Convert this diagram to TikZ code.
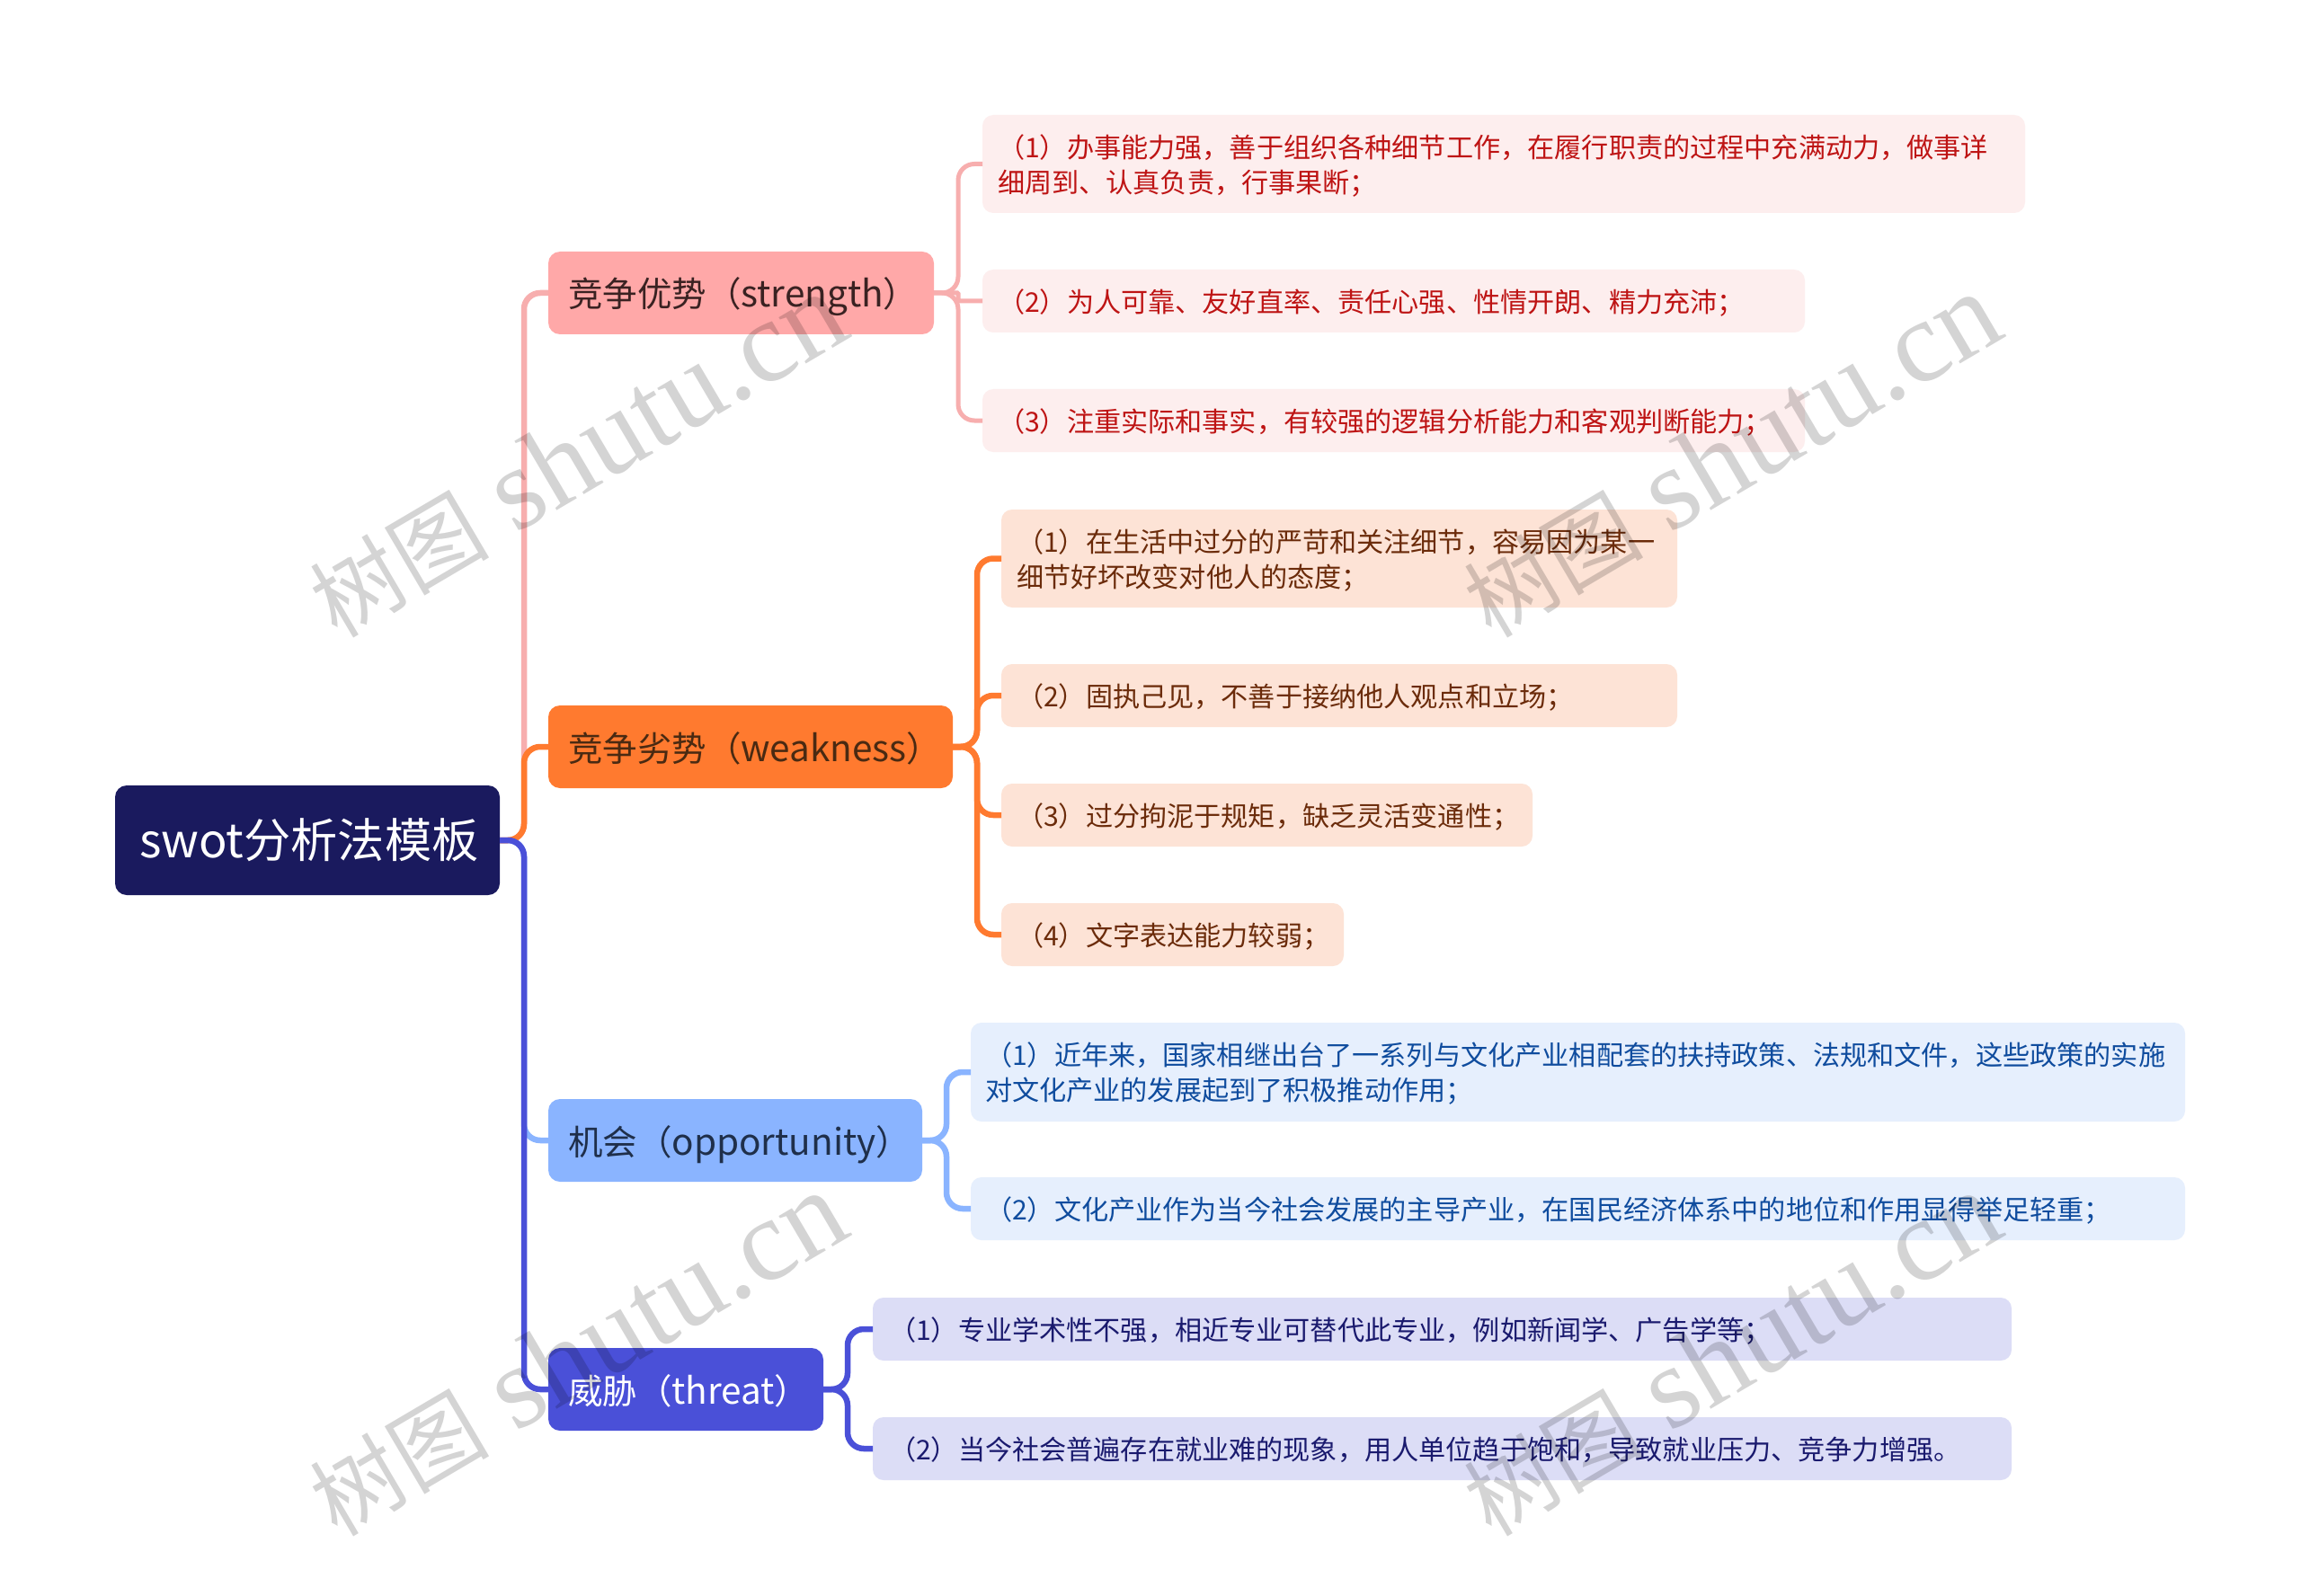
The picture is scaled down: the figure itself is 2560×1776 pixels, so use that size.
\documentclass[tikz,border=0pt]{standalone}
\usepackage{fontspec}
\setmainfont{Noto Sans CJK SC}
\newfontfamily\wmlatin{Liberation Serif}
\definecolor{rootc}{HTML}{1A1A5E}
\definecolor{sc}{HTML}{FFA8A8}
\definecolor{sl}{HTML}{F7AEAE}
\definecolor{sf}{HTML}{FDEEEE}
\definecolor{st}{HTML}{BE1414}
\definecolor{sd}{HTML}{3A2222}
\definecolor{wc}{HTML}{FF7A2F}
\definecolor{wf}{HTML}{FDE3D6}
\definecolor{wt}{HTML}{6B2B0A}
\definecolor{wd}{HTML}{4A2A12}
\definecolor{oc}{HTML}{8AB4FF}
\definecolor{of}{HTML}{E6EFFD}
\definecolor{ot}{HTML}{0F4C9E}
\definecolor{od}{HTML}{1F2F4A}
\definecolor{tc}{HTML}{4A50D8}
\definecolor{tf}{HTML}{DCDDF6}
\definecolor{tt}{HTML}{1A1A6E}
\newcommand{\lt}[1]{{\fontsize{40.5}{48}\selectfont #1}}
\tikzset{
  basebox/.style={rounded corners=13pt, inner sep=0pt, outer sep=0pt, align=left, anchor=north west},
  rootbox/.style={basebox, fill=rootc, text=white, minimum width=428pt, minimum height=122pt, text width=374pt, font=\fontsize{52.2}{60}\selectfont},
  branchbox/.style={basebox, minimum height=92pt, text height=40pt, text depth=8pt, font=\fontsize{38.5}{48}\selectfont},
  sbranch/.style={branchbox, fill=sc, text=sd},
  wbranch/.style={branchbox, fill=wc, text=wd},
  obranch/.style={branchbox, fill=oc, text=od},
  tbranch/.style={branchbox, fill=tc, text=white},
  leafbox/.style={basebox, rounded corners=12pt, font=\fontsize{30.15}{39}\selectfont},
  oneline/.style={text height=32.4pt, text depth=7.6pt},
  twoline/.style={text height=42.9pt, text depth=57.1pt},
  sleaf/.style={leafbox, fill=sf, text=st},
  wleaf/.style={leafbox, fill=wf, text=wt},
  oleaf/.style={leafbox, fill=of, text=ot},
  tleaf/.style={leafbox, fill=tf, text=tt},
  conn/.style={rounded corners=18pt, line width=6.5pt},
  sconn/.style={rounded corners=18pt, line width=5pt, draw=sl},
  wmark/.style={rotate=30.5, text=black, text opacity=0.17, inner sep=0pt},
}
\newcommand{\wmtext}{{\fontsize{100}{130}\selectfont 树图} \hspace{28pt}{\wmlatin\fontsize{130}{130}\selectfont shutu.cn}}
\begin{document}
\begin{tikzpicture}[x=1pt,y=-1pt]
\useasboundingbox (0,0) rectangle (2560,1776);
\fill[white] (0,0) rectangle (2560,1776);

% boxes
\node[rootbox, inner xsep=27pt] (root) at (128,874) {swot分析法模板};

\node[sbranch, minimum width=429pt, text width=385pt, inner xsep=22pt] (s) at (610,280) {竞争优势（\lt{strength}）};
\node[wbranch, minimum width=450pt, text width=406pt, inner xsep=22pt] (w) at (610,785) {竞争劣势（\lt{weakness}）};
\node[obranch, minimum width=416pt, text width=372pt, inner xsep=22pt] (o) at (610,1223) {机会（\lt{opportunity}）};
\node[tbranch, minimum width=306pt, text width=262pt, inner xsep=22pt] (t) at (610,1500) {威胁（\lt{threat}）};

\node[sleaf, twoline, minimum width=1160pt, minimum height=109pt, text width=1126pt, inner xsep=17pt] (s1) at (1093,128) {（1）办事能力强，善于组织各种细节工作，在履行职责的过程中充满动力，做事详\\细周到、认真负责，行事果断；};
\node[sleaf, oneline, minimum width=915pt, minimum height=70pt, text width=881pt, inner xsep=17pt] (s2) at (1093,300) {（2）为人可靠、友好直率、责任心强、性情开朗、精力充沛；};
\node[sleaf, oneline, minimum width=915pt, minimum height=70pt, text width=881pt, inner xsep=17pt] (s3) at (1093,433) {（3）注重实际和事实，有较强的逻辑分析能力和客观判断能力；};

\node[wleaf, twoline, minimum width=752pt, minimum height=109pt, text width=718pt, inner xsep=17pt] (w1) at (1114,567) {（1）在生活中过分的严苛和关注细节，容易因为某一\\细节好坏改变对他人的态度；};
\node[wleaf, oneline, minimum width=752pt, minimum height=70pt, text width=718pt, inner xsep=17pt] (w2) at (1114,739) {（2）固执己见，不善于接纳他人观点和立场；};
\node[wleaf, oneline, minimum width=591pt, minimum height=70pt, text width=557pt, inner xsep=17pt] (w3) at (1114,872) {（3）过分拘泥于规矩，缺乏灵活变通性；};
\node[wleaf, oneline, minimum width=381pt, minimum height=70pt, text width=347pt, inner xsep=17pt] (w4) at (1114,1005) {（4）文字表达能力较弱；};

\node[oleaf, twoline, minimum width=1351pt, minimum height=110pt, text width=1319pt, inner xsep=16pt] (o1) at (1080,1138) {（1）近年来，国家相继出台了一系列与文化产业相配套的扶持政策、法规和文件，这些政策的实施\\对文化产业的发展起到了积极推动作用；};
\node[oleaf, oneline, minimum width=1351pt, minimum height=70pt, text width=1319pt, inner xsep=16pt] (o2) at (1080,1310) {（2）文化产业作为当今社会发展的主导产业，在国民经济体系中的地位和作用显得举足轻重；};

\node[tleaf, oneline, minimum width=1267pt, minimum height=70pt, text width=1231pt, inner xsep=18pt] (t1) at (971,1444) {（1）专业学术性不强，相近专业可替代此专业，例如新闻学、广告学等；};
\node[tleaf, oneline, minimum width=1267pt, minimum height=70pt, text width=1231pt, inner xsep=18pt] (t2) at (971,1577) {（2）当今社会普遍存在就业难的现象，用人单位趋于饱和，导致就业压力、竞争力增强。};

% root connectors
\draw[conn, draw=sl] (root.east) -- ++(27,0) |- (s.west);
\draw[conn, draw=oc] (root.east) -- ++(27,0) |- (o.west);
\draw[conn, draw=wc] (root.east) -- ++(27,0) |- (w.west);
\draw[conn, draw=tc] (root.east) -- ++(27,0) |- (t.west);

% branch connectors
\foreach \c in {s1,s3} \draw[sconn] (s.east) -- ++(27,0) |- (\c.west);
\draw[sconn, rounded corners=1pt] (s.east) -- ++(27,0) |- (s2.west);
\foreach \c in {w1,w2,w3,w4} \draw[conn, draw=wc] (w.east) -- ++(27,0) |- (\c.west);
\foreach \c in {o1,o2} \draw[conn, draw=oc] (o.east) -- ++(27,0) |- (\c.west);
\foreach \c in {t1,t2} \draw[conn, draw=tc] (t.east) -- ++(27,0) |- (\c.west);

% watermarks
\node[wmark] (m1) at (642,507) {\wmtext};
\node[wmark] (m2) at (1926,507) {\wmtext};
\node[wmark] (m3) at (642,1507) {\wmtext};
\node[wmark] (m4) at (1926,1507) {\wmtext};
\end{tikzpicture}
\end{document}
